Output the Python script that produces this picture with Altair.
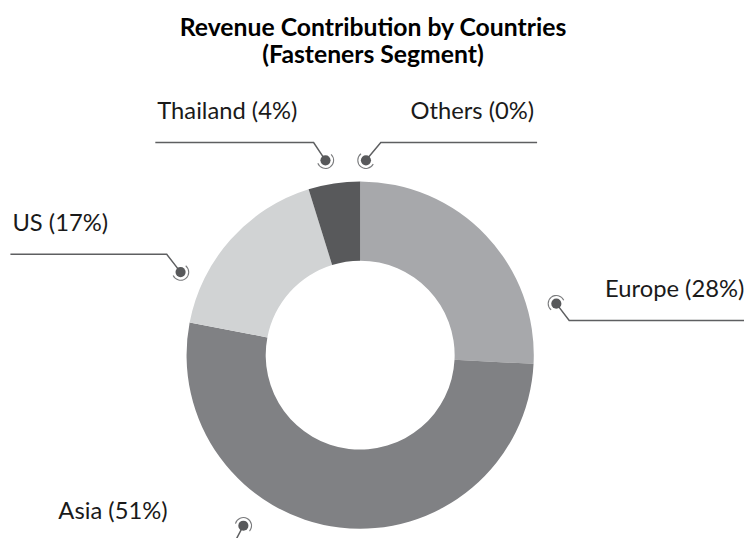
import math
import altair as alt
import pandas as pd

# ---- data ----
regions = ["Europe", "Asia", "US", "Thailand", "Others"]
shares = [25.8, 52.2, 17.2, 4.8, 0.0]          # slice sizes read from the ring
label_pct = [28, 51, 17, 4, 0]                    # percentages printed in the labels
colors = ["#a7a8ab", "#808184", "#d1d3d4", "#58595b", "#3f4042"]

# ---- layout (page pixels) ----
CX, CY = 364, 356
R_OUT, R_IN = 175.5, 95.5
dot_angle = [75.3, 214.4, 294.8, 349.9, 1.7]      # degrees clockwise from 12 o'clock
dot_radius = [205, 209, 200, 200, 197]
elbow = [(13, 17), (-9, 17), (-14, -18), (-12, -18), (15, -18)]
hline = [180, 180, 158, 160, 158]
text_gap = 24

X0, X1, Y0, Y1 = 8, 752, 78, 538

df = pd.DataFrame({"region": regions, "share": shares, "order": range(len(regions))})

pts, lines, rings, texts = [], [], [], []
for i, reg in enumerate(regions):
    a = math.radians(dot_angle[i])
    dx, dy = dot_radius[i] * math.sin(a), -dot_radius[i] * math.cos(a)
    px, py = CX + dx, CY + dy
    ex, ey = px + elbow[i][0], py + elbow[i][1]
    sgn = 1 if elbow[i][0] > 0 else -1
    endx = ex + sgn * hline[i]
    pts.append({"region": reg, "x": px, "y": py})
    for k, (lx, ly) in enumerate([(px, py), (ex, ey), (endx, ey)]):
        lines.append({"region": reg, "k": k, "x": lx, "y": ly})
    # ring segment on the side facing away from the leader line
    line_dir = math.atan2(elbow[i][0], -elbow[i][1])
    mid = line_dir + math.pi
    rings.append({"region": reg, "x": px, "y": py, "t1": mid - 1.8, "t2": mid + 1.8})
    tx = endx - 3 if sgn > 0 else endx + 2
    texts.append({"region": reg, "x": tx, "y": ey - text_gap,
                  "label": f"{reg} ({label_pct[i]}%)",
                  "align": "right" if sgn > 0 else "left"})

pts, lines, rings, texts = map(pd.DataFrame, (pts, lines, rings, texts))

xs = alt.Scale(domain=[X0, X1], nice=False, zero=False)
ys = alt.Scale(domain=[Y0, Y1], nice=False, zero=False, reverse=True)

donut = alt.Chart(df).mark_arc(innerRadius=R_IN, outerRadius=R_OUT, stroke=None).encode(
    theta=alt.Theta("share:Q", stack=True),
    order=alt.Order("order:Q"),
    color=alt.Color("region:N", scale=alt.Scale(domain=regions, range=colors), legend=None),
    x=alt.datum(CX, scale=xs, axis=None),
    y=alt.datum(CY, scale=ys, axis=None),
)

leader = alt.Chart(lines).mark_line(color="#5e5f61", strokeWidth=1.5).encode(
    x=alt.X("x:Q", scale=xs, axis=None),
    y=alt.Y("y:Q", scale=ys, axis=None),
    detail="region:N",
    order="k:Q",
)

ring = alt.Chart(rings).mark_arc(innerRadius=7.7, outerRadius=8.8, color="#7a7b7d").encode(
    x=alt.X("x:Q", scale=xs, axis=None),
    y=alt.Y("y:Q", scale=ys, axis=None),
    theta=alt.Theta("t1:Q", scale=None),
    theta2="t2:Q",
)

dots = alt.Chart(pts).mark_circle(size=105, color="#58595b", opacity=1).encode(
    x=alt.X("x:Q", scale=xs, axis=None),
    y=alt.Y("y:Q", scale=ys, axis=None),
)

def label_layer(align):
    return alt.Chart(texts[texts["align"] == align]).mark_text(
        font="Lato", fontSize=24, color="#1a1a1a", align=align, baseline="alphabetic"
    ).encode(
        x=alt.X("x:Q", scale=xs, axis=None),
        y=alt.Y("y:Q", scale=ys, axis=None),
        text="label:N",
    )

chart = alt.layer(donut, leader, ring, dots, label_layer("left"), label_layer("right")).properties(
    width=X1 - X0,
    height=Y1 - Y0,
    autosize=alt.AutoSizeParams(type="none"),
    padding={"left": 0, "top": Y0 - 8, "right": 0, "bottom": 0},
    title=alt.TitleParams(
        ["Revenue Contribution by Countries", "(Fasteners Segment)"],
        font="Lato", fontSize=25, fontWeight="bold", color="black",
        anchor="middle", lineHeight=28, offset=12, dx=-3,
    ),
).configure_view(stroke=None)

chart.save("out.html", embed_options={"renderer": "svg", "actions": False})
